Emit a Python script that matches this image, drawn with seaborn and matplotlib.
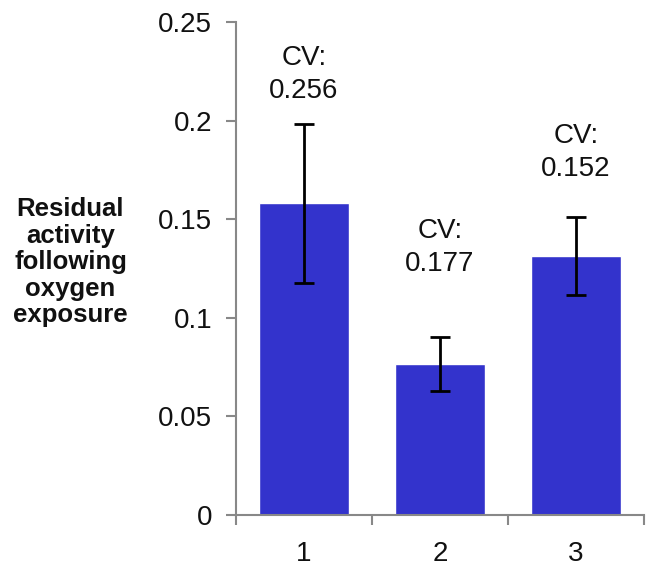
import numpy as np
import pandas as pd
import matplotlib
matplotlib.use("Agg")
import matplotlib.pyplot as plt
import seaborn as sns

# data
groups = ["1", "2", "3"]
activity = [0.158, 0.0766, 0.1313]
errors = [0.0404, 0.0136, 0.0200]
cv_labels = ["0.256", "0.177", "0.152"]
cv_label_y = [0.2236, 0.1357, 0.1836]

df = pd.DataFrame({"group": groups, "activity": activity})

sns.set_style("white")
plt.rcParams["font.family"] = ["Liberation Sans", "DejaVu Sans"]

fig = plt.figure(figsize=(6.46, 5.67), dpi=100)
ax = fig.add_axes([0.365, 0.092, 0.632, 0.869])

sns.barplot(data=df, x="group", y="activity", color="#3333CC", saturation=1,
            width=0.66, errorbar=None, ax=ax)

ax.errorbar(np.arange(len(groups)), activity, yerr=errors, fmt="none",
            ecolor="black", elinewidth=2, capsize=7, capthick=2)

for i, (lab, y) in enumerate(zip(cv_labels, cv_label_y)):
    ax.text(i, y, "CV:\n" + lab, ha="center", va="center", fontsize=20,
            linespacing=1.35, color="#111111")

ax.set_xlim(-0.5, 2.5)
ax.set_ylim(0, 0.25)
ax.set_yticks([0, 0.05, 0.1, 0.15, 0.2, 0.25])
ax.set_yticklabels(["0", "0.05", "0.1", "0.15", "0.2", "0.25"])

# ticks between the categories, labels at the centres
ax.set_xticks(np.arange(len(groups)))
ax.set_xticks([-0.5, 0.5, 1.5, 2.5], minor=True)
ax.tick_params(axis="x", which="major", length=0, pad=19, labelsize=20,
               labelcolor="#111111")
ax.tick_params(axis="x", which="minor", length=7, width=1.5, color="#888888",
               direction="out", bottom=True)
ax.tick_params(axis="y", length=7, width=1.5, color="#888888", direction="out",
               left=True, labelsize=20, labelcolor="#111111", pad=10)

for s in ["top", "right"]:
    ax.spines[s].set_visible(False)
for s in ["left", "bottom"]:
    ax.spines[s].set_color("#888888")
    ax.spines[s].set_linewidth(1.5)

ax.set_xlabel("")
ax.set_ylabel("Residual\nactivity\nfollowing\noxygen\nexposure", rotation=0,
              fontsize=18.5, fontweight="bold", ha="center", va="center",
              linespacing=1.13, color="#111111")
ax.yaxis.set_label_coords(-0.405, 0.513)

fig.savefig("out.png", dpi=100)
